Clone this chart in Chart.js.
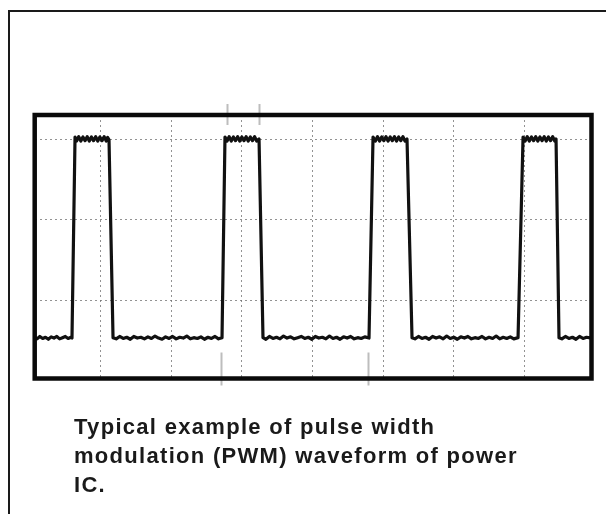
<!DOCTYPE html>
<html lang="en">
<head>
    <meta charset="UTF-8">
    <title>PWM Waveform</title>
    <script src="https://cdn.jsdelivr.net/npm/chart.js"></script>
    <style>
        body {
            margin: 0;
            background: #ffffff;
            width: 606px;
            height: 514px;
            overflow: hidden;
            position: relative;
        }
        .frame {
            position: absolute;
            left: 8px;
            top: 10px;
            right: -4px;
            bottom: -4px;
            border-left: 2px solid #1a1a1a;
            border-top: 2px solid #1a1a1a;
        }
        #pwm {
            position: absolute;
            left: 0;
            top: 0;
        }
        .caption {
            position: absolute;
            left: 74px;
            top: 412px;
            font-family: "Liberation Sans", Arial, sans-serif;
            font-weight: bold;
            font-size: 22px;
            line-height: 29px;
            letter-spacing: 1.3px;
            color: #1a1a1a;
            white-space: nowrap;
        }
    </style>
</head>
<body>
    <div class="frame"></div>
    <canvas id="pwm" width="606" height="514"></canvas>
    <div class="caption">Typical example of pulse width<br>modulation (PWM) waveform of power<br>IC.</div>
    <script>
        // trace in screen divisions: [time, level]
        const lowStart = [[0.067,0.53],[0.10,0.515],[0.14,0.545],[0.18,0.52],[0.22,0.535],[0.26,0.51],[0.30,0.54],[0.34,0.525],[0.38,0.545],[0.42,0.515],[0.46,0.53],[0.50,0.545],[0.54,0.52],[0.58,0.535],[0.595,0.525]];
        const pulse1 = [[0.638,3.035],[0.66,2.985],[0.69,3.04],[0.72,2.985],[0.75,3.035],[0.78,2.99],[0.81,3.04],[0.84,2.985],[0.87,3.035],[0.90,2.99],[0.93,3.04],[0.96,2.985],[0.99,3.035],[1.02,2.99],[1.05,3.04],[1.08,2.985],[1.10,3.03],[1.119,3.00]];
        const low1 = [[1.176,0.53],[1.22,0.515],[1.27,0.545],[1.32,0.52],[1.37,0.535],[1.42,0.51],[1.47,0.545],[1.52,0.525],[1.57,0.535],[1.62,0.515],[1.67,0.54],[1.72,0.52],[1.77,0.55],[1.82,0.525],[1.87,0.51],[1.92,0.54],[1.97,0.52],[2.02,0.545],[2.07,0.515],[2.12,0.535],[2.17,0.525],[2.22,0.55],[2.27,0.515],[2.32,0.53],[2.37,0.52],[2.42,0.54],[2.47,0.51],[2.52,0.535],[2.57,0.52],[2.62,0.545],[2.67,0.515],[2.719,0.53]];
        const pulse2 = [[2.761,3.035],[2.79,2.985],[2.82,3.04],[2.85,2.985],[2.88,3.035],[2.91,2.99],[2.94,3.04],[2.97,2.985],[3.00,3.035],[3.03,2.99],[3.06,3.04],[3.09,2.985],[3.12,3.035],[3.15,2.99],[3.18,3.04],[3.21,2.985],[3.243,3.01]];
        const low2 = [[3.299,0.53],[3.34,0.51],[3.39,0.545],[3.44,0.52],[3.49,0.535],[3.54,0.515],[3.59,0.55],[3.64,0.525],[3.69,0.54],[3.74,0.515],[3.79,0.53],[3.84,0.545],[3.89,0.52],[3.94,0.535],[3.99,0.51],[4.04,0.545],[4.09,0.525],[4.14,0.535],[4.19,0.515],[4.24,0.55],[4.29,0.52],[4.34,0.535],[4.39,0.51],[4.44,0.54],[4.49,0.525],[4.54,0.545],[4.59,0.515],[4.64,0.53],[4.69,0.52],[4.74,0.54],[4.800,0.525]];
        const pulse3 = [[4.857,3.035],[4.89,2.985],[4.92,3.04],[4.95,2.985],[4.98,3.035],[5.01,2.99],[5.04,3.04],[5.07,2.985],[5.10,3.035],[5.13,2.99],[5.16,3.04],[5.19,2.985],[5.22,3.035],[5.25,2.99],[5.28,3.04],[5.31,2.985],[5.338,3.01]];
        const low3 = [[5.409,0.53],[5.45,0.515],[5.50,0.545],[5.55,0.52],[5.60,0.535],[5.65,0.51],[5.70,0.545],[5.75,0.525],[5.80,0.54],[5.85,0.515],[5.90,0.55],[5.95,0.52],[6.00,0.535],[6.05,0.51],[6.10,0.54],[6.15,0.525],[6.20,0.545],[6.25,0.515],[6.30,0.53],[6.35,0.52],[6.40,0.545],[6.45,0.515],[6.50,0.535],[6.55,0.52],[6.60,0.55],[6.65,0.515],[6.70,0.535],[6.75,0.52],[6.80,0.54],[6.85,0.515],[6.910,0.53]];
        const pulse4 = [[6.981,3.035],[7.01,2.985],[7.04,3.04],[7.07,2.985],[7.10,3.035],[7.13,2.99],[7.16,3.04],[7.19,2.985],[7.22,3.035],[7.25,2.99],[7.28,3.04],[7.31,2.985],[7.34,3.035],[7.37,2.99],[7.40,3.04],[7.43,2.985],[7.448,3.01]];
        const lowEnd = [[7.490,0.53],[7.53,0.515],[7.58,0.545],[7.63,0.52],[7.68,0.535],[7.73,0.51],[7.78,0.545],[7.83,0.52],[7.88,0.535],[7.95,0.525]];

        const xDivisions = [1, 2, 3, 4, 5, 6, 7];
        const yDivisions = [1, 2, 3];
        const widthCursors = [2.785, 3.247];   // pulse width markers (top)
        const periodCursors = [2.700, 4.786];  // period markers (bottom)

        const trace = [].concat(lowStart, pulse1, low1, pulse2, low2, pulse3, low3, pulse4, lowEnd)
            .map(([t, v]) => ({ x: t, y: v }));

        // thick scope frame plus the grey cursor ticks
        const scopeFrame = {
            id: 'scopeFrame',
            afterDraw(chart) {
                const { ctx, chartArea: a, scales } = chart;
                ctx.save();
                ctx.strokeStyle = '#bdbdbd';
                ctx.lineWidth = 2;
                widthCursors.forEach(t => {
                    const px = Math.round(scales.x.getPixelForValue(t)) + 0.5;
                    ctx.beginPath();
                    ctx.moveTo(px, a.top - 11);
                    ctx.lineTo(px, a.top + 10);
                    ctx.stroke();
                });
                periodCursors.forEach(t => {
                    const px = Math.round(scales.x.getPixelForValue(t)) + 0.5;
                    ctx.beginPath();
                    ctx.moveTo(px, a.bottom - 26);
                    ctx.lineTo(px, a.bottom + 7);
                    ctx.stroke();
                });
                ctx.strokeStyle = '#0a0a0a';
                ctx.lineWidth = 4.5;
                ctx.strokeRect(a.left, a.top, a.right - a.left, a.bottom - a.top);
                ctx.restore();
            }
        };

        const gridStyle = {
            color: 'rgba(110,110,110,0.75)',
            lineWidth: 1,
            drawTicks: false
        };

        new Chart(document.getElementById('pwm'), {
            type: 'line',
            data: {
                datasets: [{
                    data: trace,
                    borderColor: '#111111',
                    borderWidth: 3.2,
                    borderJoinStyle: 'round',
                    pointRadius: 0,
                    tension: 0,
                    fill: false
                }]
            },
            options: {
                responsive: false,
                animation: false,
                devicePixelRatio: 1,
                layout: {
                    padding: { left: 34.7, top: 115, right: 14.5, bottom: 135.5 }
                },
                plugins: {
                    legend: { display: false },
                    tooltip: { enabled: false }
                },
                scales: {
                    x: {
                        type: 'linear',
                        min: 0.067,
                        max: 7.95,
                        afterBuildTicks: s => { s.ticks = xDivisions.map(v => ({ value: v })); },
                        ticks: { display: false },
                        grid: gridStyle,
                        border: { display: false, dash: [2, 3] }
                    },
                    y: {
                        min: 0.02,
                        max: 3.31,
                        afterBuildTicks: s => { s.ticks = yDivisions.map(v => ({ value: v })); },
                        ticks: { display: false },
                        grid: gridStyle,
                        border: { display: false, dash: [2, 3] }
                    }
                }
            },
            plugins: [scopeFrame]
        });
    </script>
</body>
</html>
